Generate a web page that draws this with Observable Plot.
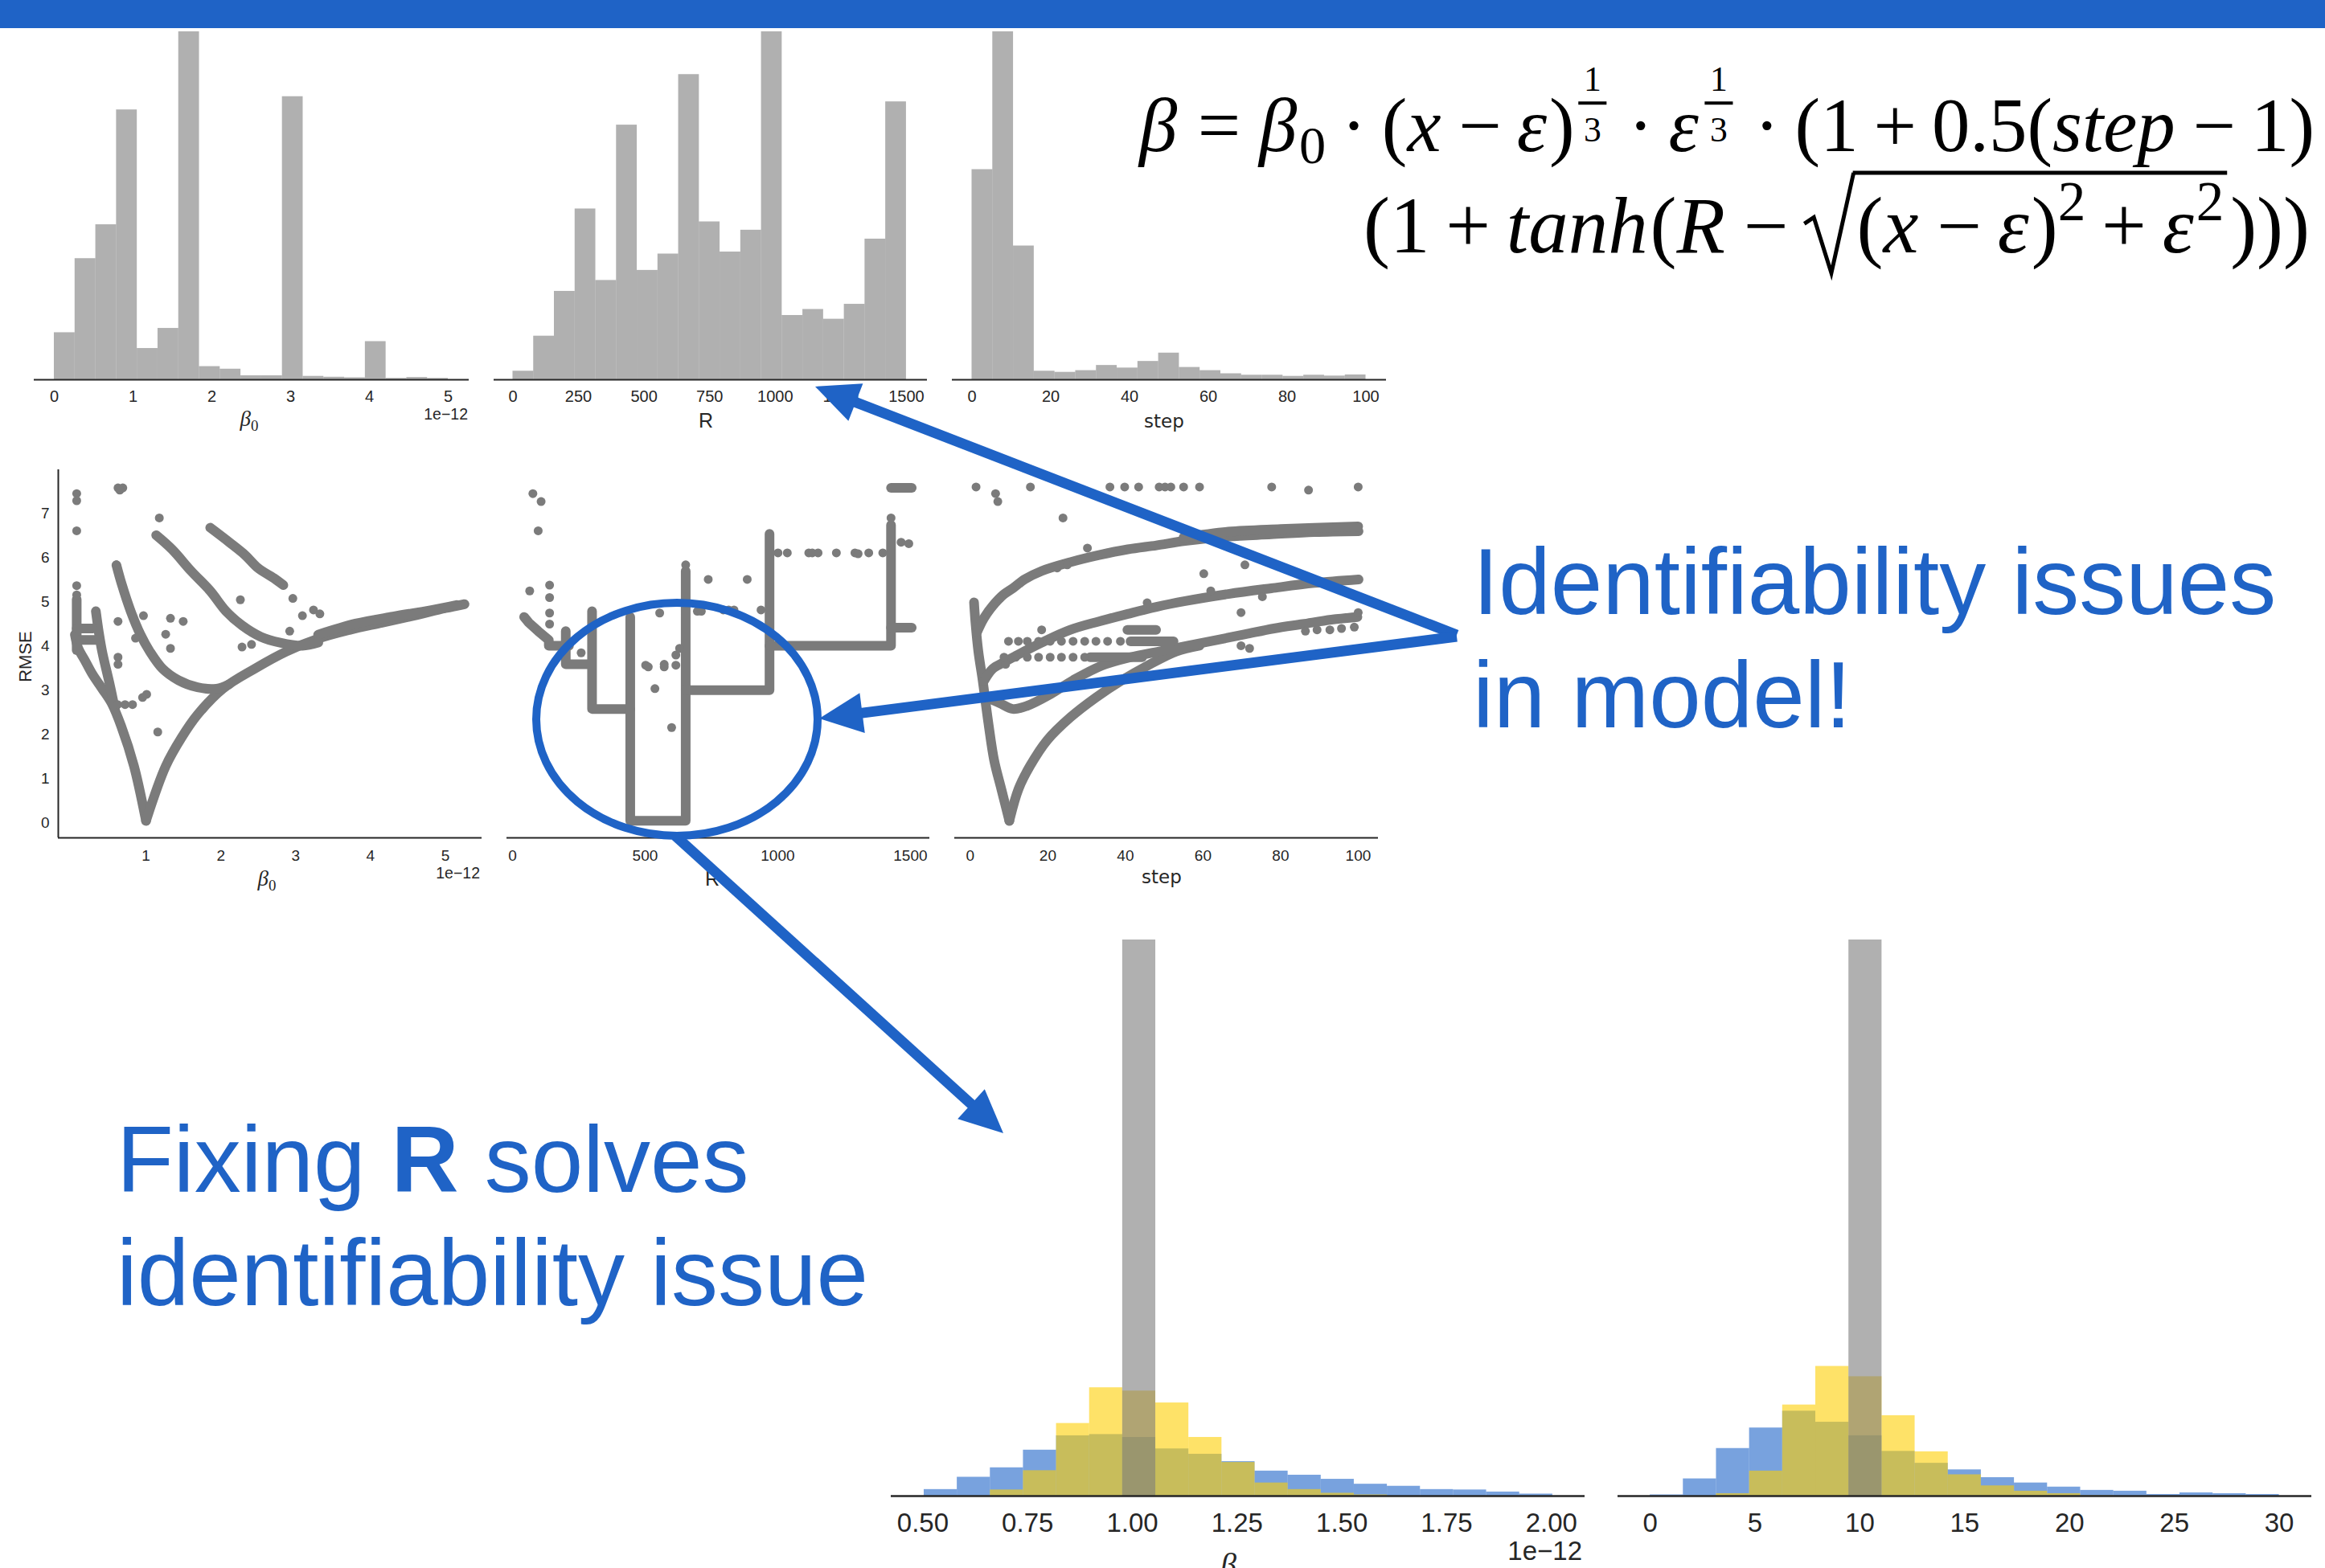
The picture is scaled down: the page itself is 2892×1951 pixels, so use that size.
<!DOCTYPE html>
<html><head><meta charset="utf-8">
<script src="https://cdn.jsdelivr.net/npm/d3@7"></script>
<script src="https://cdn.jsdelivr.net/npm/@observablehq/plot@0.6"></script>
<style>
html,body{margin:0;padding:0;background:#fff;}
#page{position:relative;width:2892px;height:1951px;overflow:hidden;background:#fff;}
</style></head>
<body><div id="page"></div>
<script>
// ---------------- DATA ----------------
// Top row: histograms of fitted parameters (relative counts per equal-width bin)
const beta0TopRange = [0, 5];            // x 1e-12
const beta0TopCounts = [164,422,540,940,109,179,1212,46,37,14,14,986,12,9,7,133,5,8,5];
const rTopRange = [0, 1500];
const rTopCounts = [30,152,308,595,346,887,381,438,1063,550,445,521,1212,224,245,211,263,490,968];
const stepTopRange = [0, 100];
const stepTopCounts = [732,1212,466,30,26,32,50,41,64,93,43,32,21,16,16,12,16,13,17];

const beta0Ticks = [0,1,2,3,4,5];
const rTicks = [0,250,500,750,1000,1250,1500];
const stepTicks = [0,20,40,60,80,100];

// Middle row: RMSE vs parameter (dense point bands as polylines + isolated points)
const rmseBeta0Bands = [
 [[0.05,4.25],[0.095,3.94],[0.18,3.68],[0.286,3.35],[0.414,3.03],[0.541,2.70],[0.669,2.18],[0.839,1.28],[1.0,0.04]],
 [[0.33,4.78],[0.37,4.3],[0.414,3.87],[0.52,3.09],[0.584,2.57]],
 [[0.074,5.05],[0.074,3.9]],
 [[0.074,4.39],[0.29,4.39]],
 [[0.12,4.13],[0.33,4.13]],
 [[1.0,0.04],[1.263,1.275],[1.476,1.924],[1.688,2.44],[2.028,3.03],[2.452,3.48],[2.877,3.87],[3.302,4.16],[3.726,4.36],[4.151,4.52],[4.576,4.68],[5.0,4.85],[5.256,4.94]],
 [[3.3,4.25],[3.8,4.5],[4.3,4.66],[4.8,4.8],[5.15,4.92]],
 [[0.605,5.82],[0.669,5.43],[0.796,4.78],[0.924,4.26],[1.051,3.87],[1.221,3.48],[1.433,3.22],[1.688,3.06],[1.943,3.03],[2.113,3.13]],
 [[1.136,6.50],[1.348,6.18],[1.603,5.69],[1.858,5.24],[2.07,4.78],[2.283,4.46],[2.537,4.2],[2.792,4.07],[3.09,4.0],[3.302,4.07]],
 [[1.858,6.67],[2.113,6.34],[2.325,6.05],[2.495,5.76],[2.707,5.53],[2.835,5.37]]
];
const rmseBeta0Points = [[0.626,7.57],[0.69,7.57],[0.65,7.52],[0.074,7.44],[0.074,7.28],[0.074,6.6],[0.074,5.36],[0.074,5.15],
 [1.178,6.89],[0.605,5.83],[0.626,4.55],[1.327,4.62],[1.497,4.55],[1.263,4.26],[1.327,3.94],[0.86,4.17],[1.009,2.9],
 [0.954,2.83],[1.157,2.05],[2.261,5.04],[2.283,3.97],[2.41,4.03],[2.962,5.07],[3.09,4.68],[3.238,4.81],[3.323,4.72],
 [2.92,4.33],[0.626,3.74],[0.626,3.58],[0.966,4.68],[0.62,2.67],[0.72,2.67],[0.82,2.67]];

const rmseRBands = [
 [[44,4.65],[62,4.52],[97,4.33],[137,4.13],[137,4.0],[213,4.0]],
 [[201,4.33],[201,3.58],[294,3.58]],
 [[300,4.78],[300,2.57],[444,2.57]],
 [[444,4.65],[444,0.04],[653,0.04],[653,5.69]],
 [[653,2.995],[969,2.995],[969,6.53]],
 [[969,4.0],[1427,4.0],[1427,6.73]],
 [[1427,7.57],[1505,7.57]],
 [[1427,4.41],[1505,4.41]]
];
const rmseRPoints = [[77,7.44],[108,7.26],[97,6.6],[65,5.24],[140,5.37],[140,5.09],[140,4.74],[140,4.49],[259,3.84],
 [555,4.74],[502,3.56],[512,3.52],[572,3.58],[572,3.52],[616,3.56],[616,3.79],[630,3.94],[537,3.03],[600,2.15],
 [653,5.83],[738,5.5],[885,5.5],[937,4.81],[697,4.78],[712,4.78],[795,4.81],[815,4.81],[835,4.81],
 [1001,6.1],[1036,6.1],[1117,6.1],[1130,6.1],[1152,6.1],[1221,6.1],[1291,6.1],[1303,6.08],[1343,6.1],[1396,6.1],
 [1427,6.89],[1465,6.34],[1494,6.31]];

const rmseStepBands = [
 [[0.97,4.98],[1.34,4.52],[2.08,3.87],[3.19,3.22],[4.67,2.25],[6.15,1.41],[8.0,0.76],[10.07,0.04]],
 [[10.07,0.04],[12.44,0.76],[15.4,1.28],[19.8,1.86],[25.8,2.38],[32.4,2.83],[39.1,3.22],[45.7,3.55],[53.1,3.87],[59.1,4.0]],
 [[1.7,4.3],[3.5,4.62],[5.78,4.9],[8.5,5.15],[11,5.30],[14,5.5],[18.4,5.69],[25.8,5.89],[33.2,6.05],[40.6,6.18],[48,6.27],[55.4,6.37],[66.5,6.47],[77.6,6.52],[88.7,6.57],[100.1,6.59]],
 [[55,6.45],[66.5,6.58],[80,6.64],[100,6.7]],
 [[3.5,3.2],[5.78,3.48],[8.5,3.62],[11.7,3.77],[18.4,4.07],[25.8,4.36],[33.2,4.55],[40.6,4.72],[48,4.88],[55.4,5.01],[66.5,5.17],[77.6,5.3],[88.7,5.42],[100.1,5.5]],
 [[5.5,2.78],[7.63,2.70],[10.96,2.57],[14.66,2.64],[20.6,2.90],[26.5,3.22],[33.9,3.55],[41.3,3.74],[48.7,3.87],[56.1,4.0],[63.5,4.13],[70.9,4.26],[78.3,4.39],[85.7,4.49],[93.1,4.59],[99.8,4.65]],
 [[30.9,3.74],[44.3,3.74]],
 [[41.3,4.10],[52.4,4.10]],
 [[40.5,4.36],[47.9,4.36]]
];
const rmseStepPoints = [[1.49,7.59],[15.5,7.59],[36.0,7.59],[39.8,7.59],[43.4,7.59],[48.7,7.59],[50.2,7.59],[51.7,7.59],[55.0,7.59],
 [59.1,7.59],[77.7,7.59],[87.2,7.52],[100,7.59],[6.52,7.44],[7.1,7.26],[23.9,6.89],[30.2,6.21],[22.4,5.76],[25.0,5.83],
 [60.2,5.63],[70.8,5.83],[62.0,5.24],[45.6,4.97],[69.8,4.75],[100,4.75],[7.6,5.07],[18.4,4.36],[9.1,3.58],[75.3,5.11],
 [86.4,4.33],[89.4,4.36],[92.7,4.36],[95.7,4.39],[99.0,4.42],[69.8,4.0],[72,3.94],
 [9.85,4.1],[12.4,4.1],[14.7,4.1],[17.6,4.1],[20.6,4.1],[23.5,4.1],[26.5,4.1],[29.5,4.1],[32.4,4.1],[35.4,4.1],[38.7,4.1],
 [8.7,3.74],[11.7,3.74],[14.7,3.74],[17.6,3.74],[20.6,3.74],[23.5,3.74],[26.5,3.74],[29.5,3.74]];

const beta0ScatterTicks = [1,2,3,4,5];
const rmseTicks = [0,1,2,3,4,5,6,7];
const rScatterTicks = [0,500,1000,1500];

// Bottom row: posteriors with R fixed (blue / yellow / gray layers)
const beta0FixRange = [0.503, 2.003];
const beta0FixBlue   = [16,46,69,112,147,150,143,115,102,84,61,51,41,29,24,16,15,10,5];
const beta0FixYellow = [0,0,15,62,177,264,256,227,143,82,32,16,7,3,0,0,0,0,0];
const beta0FixGray   = [0,0,0,0,0,0,1355,0,0,0,0,0,0,0,0,0,0,0,0];
const beta0FixTicks = [0.5,0.75,1.0,1.25,1.5,1.75,2.0];
const stepFixRange = [0, 30];
const stepFixBlue   = [3,42,116,166,207,180,147,109,80,64,45,32,22,14,12,4,8,6,4];
const stepFixYellow = [0,0,6,61,222,316,291,196,108,52,25,12,6,1,0,0,0,0,0];
const stepFixGray   = [0,0,0,0,0,0,1355,0,0,0,0,0,0,0,0,0,0,0,0];
const stepFixTicks = [0,5,10,15,20,25,30];

// ---------------- STYLE ----------------
const BLUE = "#1f63c6";
const GRAY = "#7b7b7b";
const SERIES_BLUE = "#1e64c8", SERIES_YELLOW = "#fdcf03";
const INK = "#262626";
const SANS = "Liberation Sans, Arial, sans-serif";
const SERIF = "Liberation Serif, DejaVu Serif, serif";

const page = document.getElementById("page");
const bar = document.createElement("div");
Object.assign(bar.style, {position:"absolute", left:"0px", top:"0px", width:"2892px", height:"35px", background:BLUE});
page.appendChild(bar);

function bins([lo, hi], counts) {
  const w = (hi - lo) / counts.length;
  return counts.map((c, i) => ({x1: lo + i*w, x2: lo + (i+1)*w, c})).filter(d => d.c > 0);
}
function flat(curves) { return curves.flatMap((c, k) => c.map(([x, y]) => ({x, y, k}))); }
function pts(arr) { return arr.map(([x, y]) => ({x, y})); }

function panel(frame, o) {
  const [x0, x1, y0, y1] = frame;
  const ml = 70, mr = 70, mt = 20, mb = 80;
  const svg = Plot.plot({
    width: x1 - x0 + ml + mr, height: y1 - y0 + mt + mb,
    marginLeft: ml, marginRight: mr, marginTop: mt, marginBottom: mb,
    style: {background: "transparent", fontFamily: SANS, fontSize: o.fs + "px", color: INK, overflow: "visible"},
    x: o.x, y: o.y, marks: o.marks
  });
  svg.style.position = "absolute";
  svg.style.left = (x0 - ml) + "px";
  svg.style.top = (y0 - mt) + "px";
  page.appendChild(svg);
}

const fmtInt = d => String(d);

// ---- Top histograms ----
function topHist(frame, xdom, range, counts, ticks) {
  panel(frame, {
    fs: 20,
    x: {domain: xdom}, y: {domain: [0, 1212], axis: null},
    marks: [
      Plot.rect(bins(range, counts), {x1: "x1", x2: "x2", y1: 0, y2: "c", fill: GRAY, fillOpacity: 0.6, inset: 0}),
      Plot.ruleY([0], {stroke: INK, strokeWidth: 2}),
      Plot.axisX({ticks, tickSize: 0, tickPadding: 13, tickFormat: fmtInt, label: null})
    ]
  });
}
topHist([42, 583, 39, 472], [-0.255, 5.265], beta0TopRange, beta0TopCounts, beta0Ticks);
topHist([614, 1153, 39, 472], [-72, 1580], rTopRange, rTopCounts, rTicks);
topHist([1184, 1724, 39, 472], [-5.0, 105.2], stepTopRange, stepTopCounts, stepTicks);

// ---- Middle scatter plots ----
function scatter(frame, xdom, bands, points, ticks, withY, curve) {
  const marks = [
    Plot.line(flat(bands), {x: "x", y: "y", z: "k", stroke: GRAY, strokeWidth: 12, strokeLinecap: "round", strokeLinejoin: "round", curve}),
    Plot.dot(pts(points), {x: "x", y: "y", r: 5.5, fill: GRAY, stroke: null}),
    Plot.ruleY([-0.345], {stroke: INK, strokeWidth: 2}),
    Plot.axisX({ticks, tickSize: 0, tickPadding: 14.5, tickFormat: fmtInt, label: null})
  ];
  if (withY) {
    marks.push(Plot.ruleX([xdom[0]], {stroke: INK, strokeWidth: 2}));
    marks.push(Plot.axisY({ticks: rmseTicks, tickSize: 0, tickPadding: 11, tickFormat: fmtInt, label: null}));
  }
  panel(frame, {fs: 19, x: {domain: xdom}, y: {domain: [-0.345, 7.98], axis: withY ? undefined : null}, marks});
}
scatter([72, 599, 584, 1042], [-0.172, 5.489], rmseBeta0Bands, rmseBeta0Points, beta0ScatterTicks, true, "catmull-rom");
scatter([630, 1156, 584, 1042], [-21, 1573], rmseRBands, rmseRPoints, rScatterTicks, false, "linear");
scatter([1187, 1714, 584, 1042], [-4.02, 105.2], rmseStepBands, rmseStepPoints, stepTicks, false, "catmull-rom");

// ---- Bottom overlapping histograms ----
function fixHist(frame, xdom, range, blue, yellow, gray, ticks, fmt) {
  const layer = (counts, fill) => Plot.rect(bins(range, counts), {x1: "x1", x2: "x2", y1: 0, y2: "c", fill, fillOpacity: 0.6, inset: 0});
  panel(frame, {
    fs: 33,
    x: {domain: xdom}, y: {domain: [0, 1355], axis: null},
    marks: [
      layer(blue, SERIES_BLUE), layer(yellow, SERIES_YELLOW), layer(gray, GRAY),
      Plot.ruleY([0], {stroke: INK, strokeWidth: 2.5}),
      Plot.axisX({ticks, tickSize: 0, tickPadding: 20.6, tickFormat: fmt, label: null})
    ]
  });
}
fixHist([1108, 1971, 1169, 1861], [0.4244, 2.080], beta0FixRange, beta0FixBlue, beta0FixYellow, beta0FixGray, beta0FixTicks, d3.format(".2f"));
fixHist([2012, 2875, 1169, 1861], [-1.537, 31.55], stepFixRange, stepFixBlue, stepFixYellow, stepFixGray, stepFixTicks, fmtInt);

// ---------------- OVERLAY: labels, formula, annotations ----------------
const ov = d3.select(page).append("svg")
  .attr("width", 2892).attr("height", 1951)
  .style("position", "absolute").style("left", "0px").style("top", "0px").style("pointer-events", "none");

function label(txt, x, y, size, anchor, family, rotate) {
  const t = ov.append("text").attr("x", x).attr("y", y).attr("text-anchor", anchor)
    .attr("font-family", family || SANS).attr("font-size", size).attr("fill", INK).text(txt);
  if (rotate) t.attr("transform", `rotate(${rotate},${x},${y})`);
  return t;
}
function beta0Label(x, y, size) {
  const t = ov.append("text").attr("x", x).attr("y", y).attr("text-anchor", "middle")
    .attr("font-family", SERIF).attr("font-size", size).attr("fill", INK);
  t.append("tspan").attr("font-style", "italic").text("β");
  t.append("tspan").attr("font-size", size * 0.7).attr("dy", size * 0.22).text("0");
}
// top row labels
beta0Label(310, 530, 27);
label("1e−12", 582, 522, 19.5, "end");
label("R", 878, 532, 25, "middle");
label("step", 1448, 532, 23, "middle", "DejaVu Sans, sans-serif");
// middle row labels
label("RMSE", 39, 817, 22, "middle", SANS, -90);
beta0Label(332, 1102, 27);
label("1e−12", 597, 1093, 19.5, "end");
label("R", 886, 1102, 25, "middle");
label("step", 1445, 1099, 23, "middle", "DejaVu Sans, sans-serif");
// bottom row labels (partly below the slide edge, as in the original)
label("1e−12", 1968, 1941, 33, "end");
beta0Label(1535, 1960, 40);
label("step", 2436, 1976, 36, "middle", "DejaVu Sans, sans-serif");

// formula
function mathLine(tokens, F, xRight, baseline, targetW) {
  const g = ov.append("g");
  let x = 0, sqrtX = null;
  const tx = (str, xx, yy, size, it) => g.append("text").attr("x", xx).attr("y", yy)
    .attr("font-family", SERIF).attr("font-size", size).attr("font-style", it ? "italic" : "normal")
    .attr("fill", "#000").text(str);
  for (const tk of tokens) {
    if (tk.sp) { x += tk.sp * F; continue; }
    if (tk.frac) {
      const fs = 0.46 * F;
      const a = tx(tk.frac[0], 0, -0.79 * F, fs, false), b = tx(tk.frac[1], 0, -0.13 * F, fs, false);
      const wa = a.node().getComputedTextLength(), wb = b.node().getComputedTextLength();
      const w = Math.max(wa, wb) + 0.14 * F, x0 = x + 0.05 * F;
      a.attr("x", x0 + (w - wa) / 2); b.attr("x", x0 + (w - wb) / 2);
      g.append("line").attr("x1", x0).attr("x2", x0 + w).attr("y1", -0.63 * F).attr("y2", -0.63 * F)
        .attr("stroke", "#000").attr("stroke-width", 0.04 * F);
      x = x0 + w + 0.08 * F; continue;
    }
    if (tk.sqrt === "start") {
      sqrtX = x;
      g.append("path").attr("d", `M${x},${-0.36*F} L${x+0.12*F},${-0.44*F} L${x+0.34*F},${0.26*F} L${x+0.62*F},${-1.0*F}`)
        .attr("fill", "none").attr("stroke", "#000").attr("stroke-width", 0.05 * F).attr("stroke-linejoin", "miter");
      x += 0.66 * F; continue;
    }
    if (tk.sqrt === "end") {
      g.append("line").attr("x1", sqrtX + 0.61 * F).attr("x2", x + 0.04 * F).attr("y1", -1.0 * F).attr("y2", -1.0 * F)
        .attr("stroke", "#000").attr("stroke-width", 0.05 * F);
      x += 0.08 * F; continue;
    }
    const s = tk.s || 1;
    const t = tx(tk.t, x, (tk.dy || 0) * F, s * F, tk.it);
    x += t.node().getComputedTextLength() + (tk.it ? 0.03 * F : 0);
  }
  const sc = targetW / x;
  g.attr("transform", `translate(${xRight - targetW},${baseline}) scale(${sc})`);
}
const S = {sp: 0.2}, M = {sp: 0.24};
const line1 = [
  {t: "β", it: 1}, M, {t: "="}, M, {t: "β", it: 1}, {t: "0", s: 0.7, dy: 0.16}, S, {t: "·"}, S,
  {t: "("}, {t: "x", it: 1}, S, {t: "−"}, S, {t: "ε", it: 1}, {t: ")"}, {frac: ["1", "3"]},
  S, {t: "·"}, S, {t: "ε", it: 1}, {frac: ["1", "3"]}, S, {t: "·"}, S,
  {t: "("}, {t: "1"}, S, {t: "+"}, S, {t: "0.5"}, {t: "("}, {t: "step", it: 1}, S, {t: "−"}, S, {t: "1"}, {t: ")"}
];
const line2 = [
  {t: "("}, {t: "1"}, S, {t: "+"}, S, {t: "tanh", it: 1}, {t: "("}, {t: "R", it: 1}, S, {t: "−"}, S,
  {sqrt: "start"}, {t: "("}, {t: "x", it: 1}, S, {t: "−"}, S, {t: "ε", it: 1}, {t: ")"}, {t: "2", s: 0.7, dy: -0.4},
  S, {t: "+"}, S, {t: "ε", it: 1}, {t: "2", s: 0.7, dy: -0.4}, {sqrt: "end"}, {t: ")"}, {t: ")"}, {t: ")"}
];
mathLine(line1, 80, 2879, 188, 1462);
mathLine(line2, 80, 2873, 314, 1177);

// annotation text
function bigText(parts, x, y) {
  const t = ov.append("text").attr("x", x).attr("y", y).attr("font-family", SANS).attr("font-size", 116).attr("fill", BLUE);
  for (const [s, b] of parts) t.append("tspan").attr("font-weight", b ? "bold" : "normal").text(s);
}
bigText([["Identifiability issues"]], 1832, 764);
bigText([["in model!"]], 1832, 905);
bigText([["Fixing "], ["R", 1], [" solves"]], 145, 1483);
bigText([["identifiability issue"]], 145, 1624);

// arrows & ellipse
const annotationArrows = [
  [1812, 790, 1014, 481],
  [1812, 792, 1019, 894],
  [840, 1040, 1248, 1410]
];
for (const [x1, y1, x2, y2] of annotationArrows) {
  const dx = x2 - x1, dy = y2 - y1, L = Math.hypot(dx, dy), ux = dx / L, uy = dy / L, px = -uy, py = ux;
  const hl = 54, hw = 50, bx = x2 - ux * hl, by = y2 - uy * hl;
  ov.append("line").attr("x1", x1).attr("y1", y1).attr("x2", bx + ux * 6).attr("y2", by + uy * 6)
    .attr("stroke", BLUE).attr("stroke-width", 13);
  ov.append("polygon").attr("points", `${x2},${y2} ${bx + px * hw / 2},${by + py * hw / 2} ${bx - px * hw / 2},${by - py * hw / 2}`)
    .attr("fill", BLUE);
}
ov.append("ellipse").attr("cx", 842).attr("cy", 895).attr("rx", 175).attr("ry", 145)
  .attr("fill", "none").attr("stroke", BLUE).attr("stroke-width", 10);
</script></body></html>
